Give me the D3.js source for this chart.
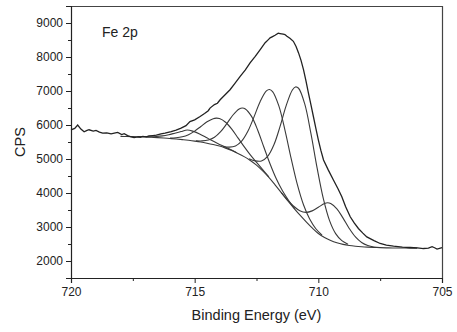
<!DOCTYPE html>
<html>
<head>
<meta charset="utf-8">
<script src="https://cdn.jsdelivr.net/npm/d3@7"></script>
<style>
  html, body { margin: 0; padding: 0; background: #fff; }
  svg text { font-family: "Liberation Sans", Arial, sans-serif; fill: #222; }
</style>
</head>
<body>
<figure id="chart" style="margin:0"></figure>
<script>
// Fe 2p XPS spectrum: raw counts, Shirley background and six fitted components
// pairs are [binding energy (eV), CPS]

const rawData = [
  [720.0, 5857], [719.85, 5900], [719.73, 6000], [719.6, 5880], [719.47, 5800], [719.35, 5840],
  [719.27, 5860], [719.1, 5820], [718.99, 5840], [718.85, 5790], [718.72, 5760], [718.55, 5770],
  [718.38, 5740], [718.25, 5760], [718.11, 5780], [717.95, 5720], [717.85, 5745], [717.71, 5690],
  [717.6, 5660], [717.45, 5630], [717.3, 5650], [717.2, 5640], [717.1, 5665], [716.95, 5650],
  [716.85, 5680], [716.69, 5690], [716.55, 5700], [716.36, 5740], [716.2, 5760], [715.95, 5806],
  [715.75, 5850], [715.55, 5907], [715.35, 5980], [715.19, 6100], [715.0, 6150], [714.78, 6250],
  [714.6, 6340], [714.45, 6420], [714.38, 6497], [714.2, 6600], [714.08, 6640], [713.97, 6742],
  [713.78, 6880], [713.57, 7037], [713.38, 7220], [713.16, 7430], [712.95, 7620], [712.76, 7825],
  [712.55, 8020], [712.35, 8217], [712.15, 8420], [712.02, 8512], [711.95, 8562], [711.85, 8600],
  [711.75, 8640], [711.62, 8700], [711.55, 8689], [711.42, 8670], [711.35, 8660], [711.27, 8610],
  [711.15, 8550], [711.01, 8462], [710.9, 8310], [710.8, 8120], [710.7, 7900],
  [710.6, 7627], [710.5, 7300], [710.4, 6940], [710.3, 6600], [710.2, 6250], [710.1, 5900],
  [710.0, 5562], [709.9, 5260], [709.79, 4972], [709.6, 4680], [709.39, 4382], [709.2, 4120],
  [709.05, 3889], [708.9, 3600], [708.71, 3300], [708.55, 3120], [708.38, 2957], [708.2, 2820],
  [708.04, 2709], [707.75, 2600], [707.5, 2515], [707.25, 2465], [706.96, 2435], [706.6, 2410],
  [706.29, 2397], [706.0, 2385], [705.75, 2367], [705.55, 2380], [705.4, 2420], [705.3, 2390],
  [705.2, 2350], [705.1, 2370], [705.0, 2390]
];

const background = [
  [718.0, 5665], [717.75, 5662], [717.5, 5658], [717.25, 5653], [717.0, 5646], [716.75, 5638],
  [716.5, 5628], [716.25, 5616], [716.0, 5603], [715.75, 5588], [715.5, 5570], [715.25, 5550],
  [715.0, 5527], [714.75, 5500], [714.5, 5465], [714.25, 5425], [714.0, 5380], [713.75, 5320],
  [713.5, 5250], [713.25, 5165], [713.0, 5070], [712.75, 4955], [712.5, 4820], [712.25, 4650],
  [712.0, 4460], [711.75, 4240], [711.5, 4010], [711.25, 3785], [711.0, 3565], [710.75, 3355],
  [710.5, 3160], [710.25, 2975], [710.0, 2810], [709.75, 2690], [709.5, 2600], [709.25, 2535],
  [709.0, 2490], [708.75, 2458], [708.5, 2436], [708.25, 2420], [708.0, 2408], [707.75, 2399],
  [707.5, 2392], [707.25, 2387], [707.0, 2384], [706.5, 2381], [706.0, 2379]
];

const peakA = [
  [711.5, 4014], [711.25, 3800], [711.0, 3613], [710.75, 3479], [710.5, 3431], [710.25, 3474],
  [710.0, 3581], [709.75, 3690], [709.625, 3712], [709.5, 3690], [709.25, 3535], [709.0, 3261],
  [708.75, 2957], [708.5, 2707], [708.25, 2544], [708.0, 2456], [707.75, 2414], [707.5, 2396]
];

const peakB = [
  [712.8, 5010], [712.55, 4946], [712.3, 4942], [712.05, 5076], [711.8, 5411], [711.55, 5950],
  [711.3, 6571], [711.05, 7031], [710.925, 7120], [710.8, 7081], [710.55, 6621], [710.3, 5753],
  [710.05, 4737], [709.8, 3841], [709.55, 3196], [709.3, 2806], [709.05, 2598], [708.8, 2496]
];

const peakC = [
  [713.85, 5367], [713.6, 5350], [713.35, 5385], [713.1, 5525], [712.85, 5814], [712.6, 6239],
  [712.35, 6694], [712.1, 7003], [711.975, 7046], [711.85, 6984], [711.6, 6569], [711.35, 5851],
  [711.1, 5018], [710.85, 4252], [710.6, 3655], [710.35, 3235], [710.1, 2948], [709.85, 2761]
];

const peakD = [
  [714.95, 5535], [714.7, 5532], [714.45, 5557], [714.2, 5640], [713.95, 5804], [713.7, 6039],
  [713.45, 6294], [713.2, 6471], [713.075, 6499], [712.95, 6473], [712.7, 6253], [712.45, 5847],
  [712.2, 5345], [711.95, 4852], [711.7, 4418], [711.45, 4065], [711.2, 3780], [710.95, 3536]
];

const peakE = [
  [716.0, 5617], [715.75, 5624], [715.5, 5652], [715.25, 5715], [715.0, 5820], [714.75, 5957],
  [714.5, 6094], [714.25, 6186], [714.125, 6201], [714.0, 6191], [713.75, 6081], [713.5, 5879],
  [713.25, 5622], [713.0, 5363], [712.75, 5120], [712.5, 4902], [712.25, 4686], [712.0, 4474]
];

const peakF = [
  [717.3, 5659], [717.05, 5660], [716.8, 5653], [716.55, 5660], [716.3, 5679], [716.05, 5714],
  [715.8, 5760], [715.55, 5807], [715.3, 5854], [715.05, 5813], [714.8, 5738], [714.55, 5641],
  [714.3, 5541], [714.05, 5450], [713.8, 5366], [713.55, 5277], [713.3, 5187]
];

const xMajorTicks = [720, 715, 710, 705];
const xMinorTicks = [717.5, 712.5, 707.5];
const yMajorTicks = [2000, 3000, 4000, 5000, 6000, 7000, 8000, 9000];
const yMinorTicks = [1500, 2500, 3500, 4500, 5500, 6500, 7500, 8500];

const size = { width: 457, height: 332, left: 71, top: 6, right: 15, bottom: 54 };

let svg, x, y;

function createSvg() {
  svg = d3.select("figure#chart")
    .append("svg")
    .attr("width", size.width)
    .attr("height", size.height);
}

function drawBasic() {
  x = d3.scaleLinear()
    .domain([720, 705])
    .range([size.left, size.width - size.right]);

  y = d3.scaleLinear()
    .domain([1500, 9500])
    .range([size.height - size.bottom, size.top]);
}

function drawAxis() {
  const bottom = size.height - size.bottom;
  const right = size.width - size.right;

  // frame on top and right, no ticks
  svg.append("path")
    .attr("d", `M${size.left},${size.top + 0.5}H${right + 0.5}V${bottom}`)
    .attr("fill", "none")
    .attr("stroke", "#444")
    .attr("stroke-width", 1.2);

  svg.append("g")
    .attr("transform", "translate(0," + bottom + ")")
    .call(d3.axisBottom(x).tickValues(xMajorTicks).tickFormat(d3.format("d")).tickSize(5).tickPadding(4));
  svg.append("g")
    .attr("transform", "translate(0," + bottom + ")")
    .call(d3.axisBottom(x).tickValues(xMinorTicks).tickFormat("").tickSize(3))
    .call(g => g.select(".domain").remove());

  svg.append("g")
    .attr("transform", "translate(" + size.left + ",0)")
    .call(d3.axisLeft(y).tickValues(yMajorTicks).tickFormat(d3.format("d")).tickSize(5).tickPadding(3));
  svg.append("g")
    .attr("transform", "translate(" + size.left + ",0)")
    .call(d3.axisLeft(y).tickValues(yMinorTicks).tickFormat("").tickSize(3))
    .call(g => g.select(".domain").remove());

  svg.selectAll(".domain").attr("stroke", "#222").attr("stroke-width", 1.2);
  svg.selectAll(".tick line").attr("stroke", "#222");
  svg.selectAll(".tick text")
    .attr("font-size", 12)
    .attr("font-family", '"Liberation Sans", Arial, sans-serif')
    .attr("fill", "#222");

  svg.append("text")
    .attr("x", (size.left + right) / 2)
    .attr("y", 320)
    .attr("text-anchor", "middle")
    .attr("font-size", 14.5)
    .text("Binding Energy (eV)");

  svg.append("text")
    .attr("transform", "translate(25," + ((size.top + bottom) / 2) + ") rotate(-90)")
    .attr("text-anchor", "middle")
    .attr("font-size", 14.5)
    .text("CPS");

  svg.append("text")
    .attr("x", 102)
    .attr("y", 37)
    .attr("font-size", 14)
    .text("Fe 2p");
}

function drawLines() {
  const smooth = d3.line()
    .x(d => x(d[0]))
    .y(d => y(d[1]))
    .curve(d3.curveCatmullRom.alpha(0.5));

  const raw = d3.line()
    .x(d => x(d[0]))
    .y(d => y(d[1]));

  const fits = [background, peakF, peakE, peakD, peakC, peakB, peakA];

  svg.append("g")
    .selectAll("path")
    .data(fits)
    .enter()
    .append("path")
    .attr("d", smooth)
    .attr("fill", "none")
    .attr("stroke", "#3a3a3a")
    .attr("stroke-width", 1.1);

  svg.append("path")
    .attr("d", raw(rawData))
    .attr("fill", "none")
    .attr("stroke", "#222")
    .attr("stroke-width", 1.3);
}

createSvg();
drawBasic();
drawAxis();
drawLines();
</script>
</body>
</html>
